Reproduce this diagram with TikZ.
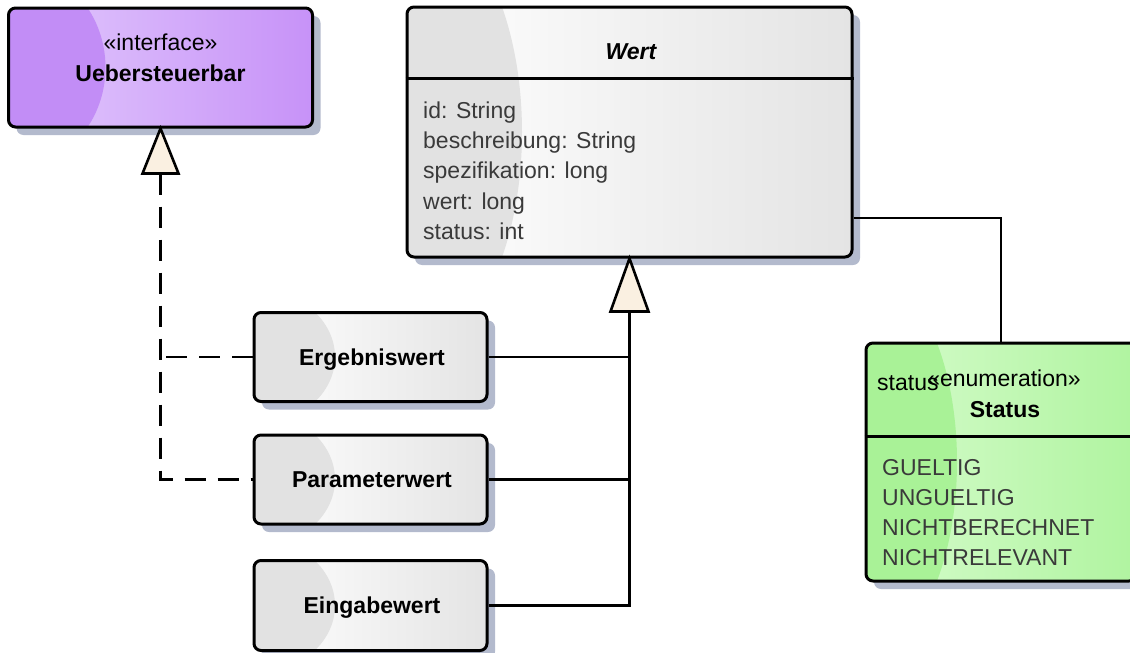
\documentclass[tikz,border=0pt]{standalone}
\usepackage{fontspec}
\setmainfont{Liberation Sans}
\usetikzlibrary{shadows,calc}

\definecolor{shadowcol}{HTML}{B3BACD}
\definecolor{purpleL}{HTML}{C28DF6}
\definecolor{purpleM}{HTML}{E2CAFC}
\definecolor{purpleR}{HTML}{C792F8}
\definecolor{grayL}{HTML}{E2E2E2}
\definecolor{grayM}{HTML}{FFFFFF}
\definecolor{grayR}{HTML}{E4E4E4}
\definecolor{greenL}{HTML}{A9F297}
\definecolor{greenM}{HTML}{D6FCCC}
\definecolor{greenR}{HTML}{B0F4A0}
\definecolor{trifillcol}{HTML}{FAF0E1}
\definecolor{attrcol}{HTML}{3A3A3A}

\begin{document}
\begin{tikzpicture}[
  x=1pt, y=-1pt,
  % class box: #1 left tint, #2 light tint, #3 right tint, #4/#5 radii of the left ellipse
  umlbox/.style n args={5}{
    draw=black, line width=3pt, rounded corners=7pt, inner sep=0pt,
    drop shadow={shadow xshift=8pt, shadow yshift=-8pt, opacity=1, fill=shadowcol},
    path picture={
      \fill[left color=#2, right color=#3]
        (path picture bounding box.south west) rectangle (path picture bounding box.north east);
      \fill[#1] (path picture bounding box.west) ellipse [x radius=#4, y radius=#5];
    }
  },
  txt/.style={font=\fontsize{23}{27}\selectfont, inner sep=0pt},
  title/.style={txt, font=\fontsize{23}{27}\selectfont\bfseries, anchor=base},
  stereo/.style={txt, anchor=base},
  attr/.style={txt, anchor=base west, text=attrcol},
  conn/.style={line width=2.6pt, line join=miter},
  realize/.style={conn, dash pattern=on 21pt off 12pt},
  trihead/.style={conn, fill=trifillcol, line join=miter}
]
\useasboundingbox (0,0) rectangle (1130,653);

% ---------- class boxes ----------
\node[umlbox={purpleL}{purpleM}{purpleR}{97pt}{103pt},
      minimum width=304pt, minimum height=119pt] (iface) at (160.5,67.5) {};
\node[umlbox={grayL}{grayM}{grayR}{115pt}{222pt},
      minimum width=445pt, minimum height=250pt] (wert) at (629.5,132) {};
\node[umlbox={grayL}{grayM}{grayR}{81pt}{68pt},
      minimum width=233pt, minimum height=89pt] (erg) at (370.5,357) {};
\node[umlbox={grayL}{grayM}{grayR}{81pt}{68pt},
      minimum width=233pt, minimum height=89pt] (par) at (370.5,479.5) {};
\node[umlbox={grayL}{grayM}{grayR}{81pt}{68pt},
      minimum width=233pt, minimum height=90pt] (ein) at (370.5,605.5) {};
\node[umlbox={greenL}{greenM}{greenR}{91pt}{190pt},
      minimum width=270pt, minimum height=238pt] (status) at (1001,462) {};

% compartment separators
\draw[line width=3pt] ([yshift=-73pt]wert.north west) -- ([yshift=-73pt]wert.north east);
\draw[line width=3pt] ([yshift=-95pt]status.north west) -- ([yshift=-95pt]status.north east);

% ---------- texts ----------
\node[stereo] (ifaceStereo) at (160.5,50) {«interface»};
\node[title]  (ifaceName)   at (160.5,81) {Uebersteuerbar};

\node[title, font=\fontsize{23}{27}\selectfont\bfseries\itshape] (wertName) at (631,59) {Wert};
\node[attr] (a1) at (423,118) {id: String};
\node[attr] (a2) at (423,148) {beschreibung: String};
\node[attr] (a3) at (423,178.5) {spezifikation: long};
\node[attr] (a4) at (423,209) {wert: long};
\node[attr] (a5) at (423,239) {status: int};

\node[title] (ergName) at (372,365) {Ergebniswert};
\node[title] (parName) at (372,487.5) {Parameterwert};
\node[title] (einName) at (372,613) {Eingabewert};

\node[stereo] (statusStereo) at (1004,386) {«enumeration»};
\node[title]  (statusName)   at (1005,417) {Status};
\node[attr] (e1) at (882,475) {GUELTIG};
\node[attr] (e2) at (882,505) {UNGUELTIG};
\node[attr] (e3) at (882,535) {NICHTBERECHNET};
\node[attr] (e4) at (882,565) {NICHTRELEVANT};

% ---------- realization of Uebersteuerbar ----------
\draw[trihead] (iface.south) -- ++(-18,45) -- ++(36,0) -- cycle;
\coordinate (ifaceBase) at ($(iface.south)+(0,45)$);
\draw[realize] (ifaceBase) |- (par.west);
\draw[realize] (erg.west) -- (erg.west -| ifaceBase);

% ---------- generalization to Wert ----------
\draw[trihead] (wert.south) -- ++(-19,53) -- ++(38,0) -- cycle;
\coordinate (wertBase) at ($(wert.south)+(0,53)$);
\draw[conn] (wertBase) |- (ein.east);
\draw[conn] (erg.east) -- (erg.east -| wertBase);
\draw[conn] (par.east) -- (par.east -| wertBase);

% ---------- association Wert -- Status ----------
\coordinate (assocY) at (0,218);
\draw[conn] (wert.east |- assocY) -| (status.north);
\node[txt, anchor=base west] (roleStatus) at (877,390) {status};

\end{tikzpicture}
\end{document}
